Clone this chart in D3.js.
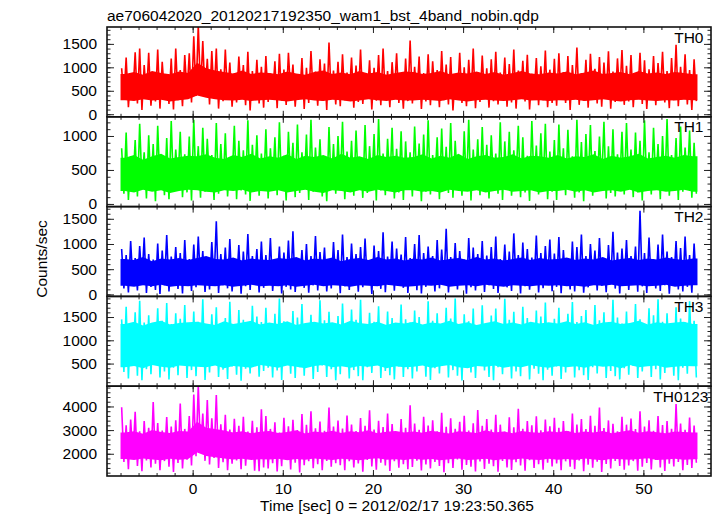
<!DOCTYPE html>
<html><head><meta charset="utf-8">
<script src="https://cdn.jsdelivr.net/npm/d3@7"></script>
<style>body{margin:0;background:#fff}svg{display:block}</style>
</head><body><svg id="c" width="717" height="516"></svg>
<script>
// ---------------- data ----------------
const title = "ae706042020_20120217192350_wam1_bst_4band_nobin.qdp";
const xLabel = "Time [sec] 0 = 2012/02/17 19:23:50.365";
const yLabel = "Counts/sec";
const binStart = -8;      // s, first bin
const binWidth = 0.5;     // s, spike bins
const coreWidth = 1;      // s, core-band bins
const xTickLabels = [0, 10, 20, 30, 40, 50];
const bandNames = ["TH0", "TH1", "TH2", "TH3", "TH0123"];
const yTickLabels = [[0,500,1000,1500],[0,500,1000],[0,500,1000,1500],[500,1000,1500],[2000,3000,4000]];

// per 0.5 s bin: upper and lower excursions of the light curve (counts/sec)
const th0Hi = [
980,1210,860,1320,1400,1050,1310,900,1380,1120,820,1190,1400,940,1260,1300,
1660,1900,1560,1180,1350,1400,960,1380,1100,880,1230,1050,1330,920,1160,1010,
1240,870,1130,1290,950,1310,1060,840,1200,990,1350,910,1170,1080,1530,930,
1120,1280,890,1210,1040,1380,870,1150,990,1260,1400,920,1110,1300,860,1190,
1570,1010,1230,880,1280,1130,940,1350,1060,1220,850,1310,1000,1160,1400,900,
1250,980,1170,1330,890,1210,1070,1380,930,1140,1270,860,1200,1020,1360,950,
1180,1300,900,1240,1050,1420,880,1160,1290,970,1220,1100,1340,910,1190,1370,
1030,1260,880,1310,1150,960,1240,1090,1330,920,1200,1480,1010,1280,940,1170];
const th0Lo = [
320,150,410,230,90,350,180,270,120,380,220,100,300,170,420,250,
390,460,380,210,330,120,280,360,160,250,410,190,80,310,230,140,
260,370,130,290,200,440,160,330,110,240,380,180,290,90,350,210,
170,300,400,140,260,220,350,100,290,190,330,150,420,240,120,280,
230,340,110,270,190,390,150,300,210,80,360,240,170,310,130,260,
350,140,280,210,400,160,250,120,330,270,100,380,190,300,150,240,
180,310,240,90,370,200,290,140,410,230,160,340,120,260,380,200,
270,150,360,220,110,320,190,400,250,130,300,170,340,210,90,280];
// per 1 s bin: edges of the dense core of the band
const th0CoreHi = [
860,900,840,920,880,850,910,880,1100,980,930,900,870,930,860,890,
880,850,910,870,840,900,930,860,890,850,920,870,900,840,880,910,
900,860,880,920,850,890,870,910,860,900,840,880,920,870,850,890,
870,910,850,890,930,860,880,900,850,920,870,890,860,900,880,850];
const th0CoreLo = [
300,280,320,290,310,270,300,320,400,350,320,300,290,310,280,300,
310,290,270,300,320,290,280,310,300,270,290,320,300,280,310,290,
290,310,300,280,320,290,270,300,310,290,280,300,320,290,300,280,
300,290,310,280,300,320,290,270,300,310,290,280,300,290,310,300];

const th1Hi = [
820,1050,700,940,1180,760,1010,880,1150,690,970,1220,800,1060,730,990,
1240,850,1120,960,720,1190,880,1040,680,1150,930,790,1230,870,1010,740,
1100,820,980,1200,710,1060,900,1170,760,1020,1240,830,950,700,1130,880,
1000,1210,770,930,1080,690,1160,850,1030,1250,740,960,1120,810,1070,920,
760,1140,890,1020,1230,720,980,1110,840,1190,930,680,1070,1240,800,950,
1130,870,1010,740,1200,920,1060,790,1150,980,710,1220,860,1040,1180,770,
940,1170,820,1090,700,1240,910,1030,1160,780,990,1210,850,1100,730,1060,
1190,800,1050,930,1230,760,1120,880,1000,1250,720,970,1140,830,1080,900];
const th1Lo = [
150,60,230,110,300,80,190,40,260,130,70,210,320,100,170,50,
240,90,180,280,60,150,220,110,310,70,200,140,45,250,120,190,
80,270,130,200,50,330,100,160,230,60,180,290,110,40,210,150,
260,70,190,120,300,90,160,240,50,200,130,280,80,170,60,230,
110,250,40,180,140,310,70,210,160,90,270,120,200,50,240,130,
190,80,290,150,60,220,120,330,100,170,45,260,140,210,70,180,
60,230,130,280,90,170,40,250,120,200,310,80,160,110,270,140,
220,100,170,50,260,140,300,70,190,120,240,60,180,290,90,150];
const th1CoreHi = [
680,720,650,700,740,670,690,710,700,730,680,660,720,690,740,670,
700,680,730,660,710,690,720,670,740,680,700,660,720,690,710,680,
690,730,670,710,680,740,660,700,720,680,690,730,670,710,700,680,
720,670,700,690,730,660,710,680,700,740,670,690,710,680,720,700];
const th1CoreLo = [
190,170,210,180,200,160,190,210,200,180,170,200,190,210,170,190,
180,200,170,190,210,180,160,200,190,170,200,180,210,190,170,200,
200,180,190,170,210,190,180,200,170,190,210,180,190,200,170,190,
190,210,180,200,170,190,200,180,210,170,190,200,180,190,210,180];

const th2Hi = [
900,780,1060,720,960,1130,800,690,1010,870,1180,750,940,820,1080,700,
990,1150,860,740,1040,1450,800,930,1100,710,980,850,1200,760,900,1050,
780,1120,690,950,830,1070,1250,720,880,1000,760,1160,840,930,700,1040,
880,1190,740,1010,800,940,1110,680,970,860,1230,750,1050,910,790,1140,
720,1000,1180,820,950,760,1080,890,1300,740,1020,860,690,1120,930,800,
1060,770,940,1150,700,990,850,1210,780,1030,900,730,1170,820,960,1090,
810,1140,880,720,1050,940,1190,760,1000,870,1120,700,980,1240,830,910,
1080,760,950,1660,820,1130,700,990,1190,850,740,1060,920,1150,780,1010];
const th2Lo = [
120,40,200,80,260,30,150,90,10,180,60,230,110,20,170,70,
140,220,50,100,250,30,180,120,60,210,15,160,90,270,40,130,
190,70,240,20,150,100,50,210,130,35,180,80,280,60,120,200,
25,160,90,230,55,140,200,10,170,110,45,250,75,190,130,30,
210,85,20,150,240,60,120,190,40,170,100,270,15,140,80,220,
50,180,110,30,200,140,70,250,20,160,95,210,40,125,230,65,
150,25,220,100,60,190,35,140,260,80,170,45,210,115,20,180,
90,240,55,160,30,200,120,70,180,15,230,100,60,150,35,190];
const th2CoreHi = [
700,680,740,660,710,690,720,680,720,760,700,690,730,670,710,690,
680,720,700,740,670,710,690,730,660,700,720,680,740,690,710,670,
710,690,730,670,700,720,680,740,690,710,670,700,730,680,720,690,
700,730,680,710,690,740,670,700,720,680,710,690,730,700,680,710];
const th2CoreLo = [
170,150,180,160,190,150,170,160,180,170,160,180,150,170,190,160,
170,160,180,150,170,190,160,180,170,150,180,170,160,190,170,150,
160,180,170,190,150,170,180,160,190,170,150,180,170,160,180,170,
180,160,170,150,180,170,190,160,170,180,160,170,190,150,170,180];

const th3Hi = [
1450,1720,1310,1600,1850,1380,1540,1270,1690,1420,1800,1350,1580,1460,1760,1330,
1620,1400,1880,1290,1560,1710,1360,1480,1830,1320,1650,1440,1270,1740,1510,1390,
1700,1340,1570,1900,1410,1280,1630,1490,1780,1360,1550,1300,1860,1430,1610,1370,
1520,1790,1330,1660,1440,1870,1290,1590,1400,1730,1350,1620,1480,1310,1770,1450,
1380,1640,1500,1290,1840,1420,1580,1340,1700,1470,1900,1320,1560,1410,1680,1300,
1750,1360,1530,1680,1300,1890,1440,1610,1350,1720,1480,1280,1640,1510,1810,1370,
1460,1700,1310,1570,1820,1390,1520,1650,1280,1760,1430,1600,1340,1870,1490,1360,
1620,1350,1780,1450,1300,1690,1540,1880,1400,1580,1320,1710,1470,1380,1840,1420];
const th3Lo = [
320,180,450,240,140,380,270,520,200,330,160,410,250,480,190,360,
230,430,150,310,500,210,370,170,440,260,130,390,290,540,220,340,
410,200,350,150,470,280,190,420,240,510,170,320,460,210,380,140,
270,490,180,360,230,140,420,300,530,190,340,250,160,440,210,380,
180,330,470,220,150,400,290,510,200,360,240,135,430,310,190,460,
350,210,140,420,270,500,180,330,230,450,160,390,280,140,370,240,
440,170,310,530,200,360,250,150,420,290,480,190,340,230,160,400,
260,450,190,330,520,210,380,160,300,470,240,140,410,280,500,200];
const th3CoreHi = [
1350,1400,1320,1380,1420,1340,1370,1390,1400,1360,1330,1410,1350,1380,1420,1340,
1380,1350,1410,1330,1370,1400,1360,1390,1340,1420,1370,1350,1400,1330,1380,1360,
1400,1340,1380,1360,1420,1350,1390,1330,1370,1410,1350,1380,1340,1400,1360,1390,
1360,1410,1350,1390,1330,1380,1400,1350,1370,1420,1340,1390,1360,1380,1400,1350];
const th3CoreLo = [
420,450,400,470,430,410,460,440,430,420,460,400,450,430,410,470,
440,410,460,430,400,450,470,420,440,410,450,430,460,400,440,420,
430,460,410,440,470,420,400,450,430,460,410,440,420,470,430,410,
450,420,440,410,460,430,450,400,470,420,440,460,410,430,450,440];

const th0123Hi = [
3970,3200,3450,3770,2950,3380,3100,4190,3300,2980,3550,3150,3420,4120,3050,3600,
4500,4900,3700,4270,3500,4480,3250,3650,3020,3480,3180,3560,2940,3390,3120,3880,
3600,3050,3330,2900,3520,3160,3440,3000,3680,3220,3800,3080,3360,2970,3950,3150,
3400,3070,3620,3240,2960,3510,3180,3840,3020,3390,3130,3700,3260,2930,3470,3100,
4050,3280,3010,3560,3190,3420,2950,3730,3140,3500,3060,3350,3610,2980,3290,3850,
3180,3470,3020,3650,3230,2940,3540,3120,3900,3060,3380,3200,3580,2990,3450,3160,
3520,3100,3380,2960,3700,3240,3470,3040,3610,3180,3960,3090,3410,3270,2950,3560,
3230,3490,3040,3800,3150,3420,2970,3600,3210,3380,3060,4100,3280,3010,3530,3190];
const th0123Lo = [
1650,1350,1800,1480,1260,1720,1420,1580,1300,1690,1450,1230,1610,1380,1750,1500,
1900,2050,1700,1550,1820,1400,1640,1300,1580,1720,1350,1490,1800,1280,1260,1420,
1380,1600,1250,1470,1750,1340,1620,1210,1520,1680,1390,1560,1300,1700,1450,1600,
1520,1300,1680,1420,1590,1240,1740,1460,1330,1620,1500,1270,1690,1410,1560,1350,
1440,1710,1290,1550,1380,1650,1480,1220,1600,1400,1760,1320,1530,1450,1250,1670,
1360,1580,1470,1240,1700,1420,1310,1640,1500,1280,1730,1400,1560,1330,1620,1460,
1590,1300,1680,1450,1350,1720,1260,1540,1410,1660,1230,1570,1380,1700,1480,1320,
1510,1690,1280,1450,1610,1340,1740,1420,1270,1580,1460,1650,1300,1530,1400,1620];
const th0123CoreHi = [
2900,2950,2850,3000,2920,2880,2960,2940,3350,3100,3050,2980,2900,2950,2870,2930,
2960,2880,2920,2990,2860,2940,2900,2970,2880,2950,2910,2990,2870,2930,2960,2900,
2940,2890,2970,2910,2860,2950,2920,2880,2990,2900,2940,2870,2960,2910,2890,2950,
2910,2970,2880,2940,2900,2960,2870,2930,2990,2890,2950,2910,2870,2940,2920,2900];
const th0123CoreLo = [
1780,1740,1800,1760,1720,1790,1750,1780,2050,1900,1850,1800,1760,1790,1740,1770,
1760,1790,1730,1780,1750,1800,1770,1740,1790,1760,1720,1780,1810,1750,1770,1740,
1790,1750,1780,1730,1770,1800,1740,1760,1790,1720,1780,1750,1800,1760,1740,1790,
1750,1780,1740,1800,1760,1730,1790,1770,1750,1780,1810,1740,1760,1790,1750,1770];

const seriesHi = [th0Hi, th1Hi, th2Hi, th3Hi, th0123Hi];
const seriesLo = [th0Lo, th1Lo, th2Lo, th3Lo, th0123Lo];
const coreHi = [th0CoreHi, th1CoreHi, th2CoreHi, th3CoreHi, th0123CoreHi];
const coreLo = [th0CoreLo, th1CoreLo, th2CoreLo, th3CoreLo, th0123CoreLo];

// ---------------- layout / style ----------------
const colors = ["#ff0000", "#00ff00", "#0000ff", "#00ffff", "#ff00ff"];
const yDomains = [[-55,1860],[-39,1282],[-40,1742],[14,1943],[1059,4857]];
const yMinorStep = [100,100,100,100,200];
const xDomain = [-9.5, 57.5];
const L = 107, R = 711, T = 27, B = 476;
const FONT = "'Liberation Sans', Arial, Helvetica, sans-serif";
const FS = 15.5;

const svg = d3.select("#c");
const x = d3.scaleLinear().domain(xDomain).range([L, R]);
const nP = bandNames.length;
const pH = (B - T) / nP;
const xMajor = d3.range(-10, 60, 10).filter(v => v >= xDomain[0] && v <= xDomain[1]);
const xMinor = d3.range(-8, 58, 2).filter(v => v >= xDomain[0] && v <= xDomain[1]);

const defs = svg.append("defs");

bandNames.forEach((name, k) => {
  const top = T + k * pH, bot = top + pH;
  const y = d3.scaleLinear().domain(yDomains[k]).range([bot, top]);
  const g = svg.append("g");

  defs.append("clipPath").attr("id", "clip" + k)
    .append("rect").attr("x", L).attr("y", top).attr("width", R - L).attr("height", pH);
  const dg = g.append("g").attr("clip-path", "url(#clip" + k + ")");

  // dense core of the band
  const core = coreHi[k].map((h, i) => ({ t: binStart + (i + 0.5) * coreWidth, hi: h, lo: coreLo[k][i] }));
  const first = { t: binStart, hi: core[0].hi, lo: core[0].lo };
  const last = { t: binStart + coreHi[k].length * coreWidth, hi: core[core.length - 1].hi, lo: core[core.length - 1].lo };
  const coreData = [first, ...core, last];
  dg.append("path")
    .attr("d", d3.area().x(d => x(d.t)).y0(d => y(d.lo)).y1(d => y(d.hi))(coreData))
    .attr("fill", colors[k]);

  // zig-zag excursions (spikes)
  const pts = [];
  seriesHi[k].forEach((hi, i) => {
    const t0 = binStart + i * binWidth;
    pts.push([t0 + binWidth * 0.25, hi]);
    pts.push([t0 + binWidth * 0.75, seriesLo[k][i]]);
  });
  dg.append("path").attr("d", d3.line().x(d => x(d[0])).y(d => y(d[1]))(pts))
    .attr("fill", "none").attr("stroke", colors[k])
    .attr("stroke-width", 1.6).attr("stroke-linejoin", "miter").attr("stroke-miterlimit", 2);

  // axes (ticks inward)
  const yMin = d3.range(Math.ceil(yDomains[k][0] / yMinorStep[k]) * yMinorStep[k], yDomains[k][1], yMinorStep[k]);
  const ax = [];
  ax.push(g.append("g").attr("transform", `translate(${L},0)`)
    .call(d3.axisLeft(y).tickValues(yTickLabels[k]).tickSize(-7).tickPadding(10).tickFormat(d3.format("d"))));
  ax.push(g.append("g").attr("transform", `translate(${L},0)`)
    .call(d3.axisLeft(y).tickValues(yMin).tickSize(-3.5).tickFormat("")));
  ax.push(g.append("g").attr("transform", `translate(${R},0)`)
    .call(d3.axisRight(y).tickValues(yTickLabels[k]).tickSize(-7).tickFormat("")));
  ax.push(g.append("g").attr("transform", `translate(${R},0)`)
    .call(d3.axisRight(y).tickValues(yMin).tickSize(-3.5).tickFormat("")));
  ax.push(g.append("g").attr("transform", `translate(0,${top})`)
    .call(d3.axisBottom(x).tickValues(xMajor).tickSize(6).tickFormat("")));
  ax.push(g.append("g").attr("transform", `translate(0,${top})`)
    .call(d3.axisBottom(x).tickValues(xMinor).tickSize(3).tickFormat("")));
  ax.push(g.append("g").attr("transform", `translate(0,${bot})`)
    .call(d3.axisTop(x).tickValues(xMajor).tickSize(6).tickFormat("")));
  ax.push(g.append("g").attr("transform", `translate(0,${bot})`)
    .call(d3.axisTop(x).tickValues(xMinor).tickSize(3).tickFormat("")));
  if (k === nP - 1) {
    ax.push(g.append("g").attr("transform", `translate(0,${bot})`)
      .call(d3.axisBottom(x).tickValues(xTickLabels).tickSize(0).tickPadding(7).tickFormat(d3.format("d"))));
  }
  ax.forEach(a => {
    a.select(".domain").remove();
    a.selectAll("line").attr("stroke", "#222").attr("stroke-width", 1);
    a.selectAll("text").attr("font-family", FONT).attr("font-size", FS).attr("fill", "#000");
  });

  // band label
  g.append("text").attr("x", k === nP - 1 ? 708.5 : 703.5).attr("y", top + 15.6)
    .attr("text-anchor", "end").attr("font-family", FONT).attr("font-size", FS)
    .text(name);

  // panel frame
  g.append("rect").attr("x", L).attr("y", top).attr("width", R - L).attr("height", pH)
    .attr("fill", "none").attr("stroke", "#111").attr("stroke-width", 1.6);
});

svg.append("text").attr("x", L).attr("y", 20.5)
  .attr("font-family", FONT).attr("font-size", FS).text(title);
svg.append("text").attr("x", 397).attr("y", 510.5).attr("text-anchor", "middle")
  .attr("font-family", FONT).attr("font-size", FS).text(xLabel);
svg.append("text").attr("transform", "translate(46.5,259) rotate(-90)").attr("text-anchor", "middle")
  .attr("font-family", FONT).attr("font-size", FS).text(yLabel);
</script></body></html>
